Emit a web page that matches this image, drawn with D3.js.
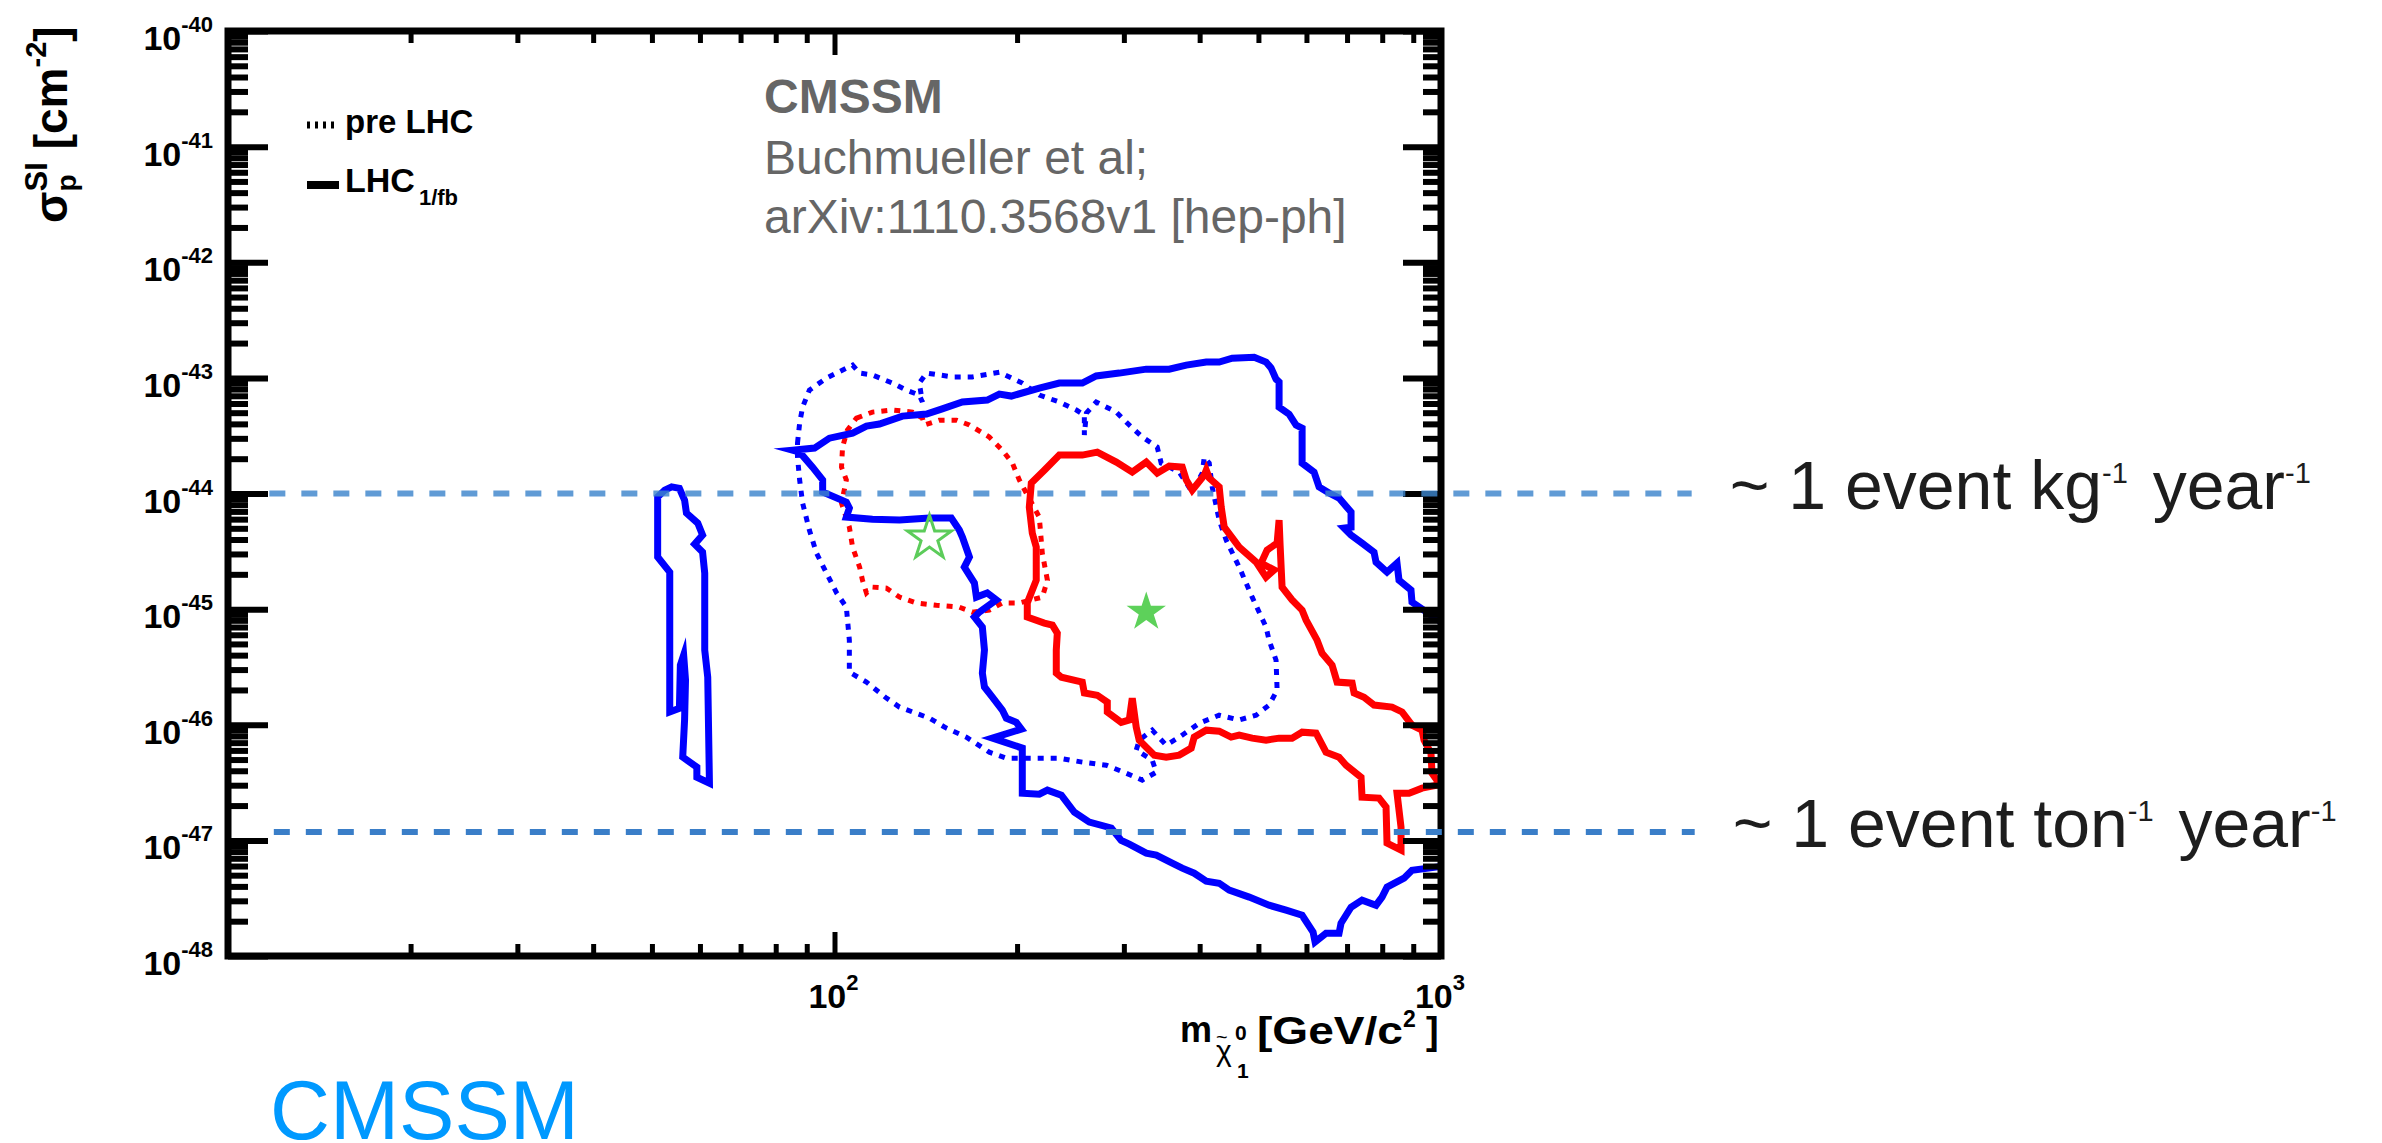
<!DOCTYPE html>
<html>
<head>
<meta charset="utf-8">
<script src="https://cdn.jsdelivr.net/npm/d3@7"></script>
<style>
  body { margin: 0; background: #fff; }
  svg { display: block; font-family: "Liberation Sans", Arial, Helvetica, sans-serif; }
</style>
</head>
<body>
<div id="chart"></div>
<script>
// axis ranges
const massDomain = [10, 1000];          // GeV/c^2
const sigmaDomain = [1e-48, 1e-40];     // cm^2
const yTickExponents = [-40, -41, -42, -43, -44, -45, -46, -47, -48];
const xTickExponents = [2, 3];
const minorMantissas = [2, 3, 4, 5, 6, 7, 8, 9];

// contours, [mass GeV, sigma cm^2]
// LHC 1/fb, 95% CL (solid blue)
const lhc95Main = [[85.3,2.37e-44],[92.7,2.47e-44],[98.1,3.01e-44],[107.1,3.33e-44],[112.9,3.83e-44],[118.6,3.99e-44],[129.4,4.67e-44],[141.8,4.86e-44],[150.1,5.37e-44],[162.5,6.18e-44],[178.6,6.43e-44],[187.0,7.24e-44],[195.7,6.96e-44],[217.6,8.16e-44],[234.8,9.02e-44],[256.2,9.02e-44],[270.1,1.04e-43],[294.8,1.10e-43],[326.6,1.19e-43],[356.3,1.19e-43],[380.2,1.29e-43],[410.1,1.37e-43],[430.8,1.37e-43],[452.6,1.48e-43],[492.0,1.51e-43],[514.7,1.37e-43],[524.5,1.22e-43],[534.6,9.76e-44],[540.8,9.20e-44],[540.8,5.59e-44],[561.7,4.86e-44],[576.8,3.91e-44],[590.2,3.68e-44],[590.2,1.83e-44],[617.6,1.53e-44],[629.5,1.14e-44],[653.7,1.01e-44],[679.0,9.13e-45],[710.7,6.91e-45],[710.7,5.12e-45],[692.0,5.02e-45],[710.7,4.37e-45],[741.0,3.72e-45],[775.5,3.11e-45],[781.4,2.55e-45],[814.7,2.09e-45],[846.2,2.50e-45],[852.6,1.78e-45],[892.3,1.46e-45],[895.7,1.15e-45],[973.6,8.53e-46],[1050,6.58e-46],[1050,6.10e-48],[981.0,5.87e-48],[895.7,5.52e-48],[869.0,4.71e-48],[814.7,3.94e-48],[799.4,3.23e-48],[781.4,2.75e-48],[741.0,3.04e-48],[710.7,2.64e-48],[684.1,1.92e-48],[679.0,1.57e-48],[646.3,1.57e-48],[620.0,1.32e-48],[615.3,1.61e-48],[590.2,2.25e-48],[555.3,2.49e-48],[520.6,2.75e-48],[482.8,3.23e-48],[447.5,3.71e-48],[430.8,4.26e-48],[410.1,4.44e-48],[391.8,5.20e-48],[374.4,5.75e-48],[360.4,6.35e-48],[339.3,7.45e-48],[326.6,7.75e-48],[306.2,9.27e-48],[297.0,1.00e-47],[286.0,1.28e-47],[263.1,1.44e-47],[248.6,1.75e-47],[236.6,2.46e-47],[224.4,2.72e-47],[217.6,2.51e-47],[204.0,2.56e-47],[204.0,6.28e-47],[182.1,7.66e-47],[203.3,9.16e-47],[199.4,1.05e-46],[192.0,1.14e-46],[189.1,1.34e-46],[182.1,1.73e-46],[176.7,2.12e-46],[175.3,2.80e-46],[176.7,4.42e-46],[175.3,6.99e-46],[170.1,8.53e-46],[173.3,9.42e-46],[184.9,1.20e-45],[178.6,1.38e-45],[171.4,1.27e-45],[170.1,1.68e-45],[163.7,2.31e-45],[166.9,2.82e-45],[162.5,4.20e-45],[160.6,4.83e-45],[155.8,6.13e-45],[143.4,6.13e-45],[128.0,5.89e-45],[115.5,6.00e-45],[104.6,6.25e-45],[105.8,7.48e-45],[104.6,8.42e-45],[95.6,1.03e-44],[95.6,1.31e-44],[92.0,1.69e-44],[87.6,2.28e-44]];
const lhc95Strip = [[53.9,1.14e-44],[55.5,1.11e-44],[56.6,8.77e-45],[57.0,6.77e-45],[59.5,5.55e-45],[60.6,4.37e-45],[58.8,3.65e-45],[60.6,3.11e-45],[61.1,2.05e-45],[61.1,4.42e-46],[61.8,2.58e-46],[62.2,3.12e-47],[59.3,3.52e-47],[59.3,4.30e-47],[56.2,5.25e-47],[56.6,1.10e-46],[56.8,2.43e-46],[56.4,4.00e-46],[55.7,3.28e-46],[55.5,1.39e-46],[53.5,1.29e-46],[53.5,2.09e-45],[51.1,2.82e-45],[51.1,9.31e-45],[52.5,1.07e-44]];
// LHC 1/fb, 68% CL (solid red)
const lhc68 = [[221.8,1.59e-44],[234.8,2.15e-44],[256.2,2.15e-44],[271.2,2.28e-44],[291.5,1.87e-44],[309.7,1.53e-44],[326.6,1.87e-44],[340.5,1.50e-44],[356.3,1.73e-44],[374.4,1.69e-44],[380.2,1.31e-44],[388.9,1.07e-44],[407.0,1.44e-44],[410.1,1.59e-44],[414.8,1.36e-44],[430.8,1.14e-44],[434.1,7.63e-45],[439.1,5.12e-45],[464.8,3.44e-45],[495.7,2.55e-45],[514.7,1.89e-45],[530.8,2.18e-45],[505.1,2.50e-45],[516.7,3.24e-45],[536.8,3.72e-45],[540.8,5.89e-45],[542.9,3.58e-45],[547.0,1.55e-45],[568.1,1.20e-45],[590.2,9.80e-46],[599.3,8.03e-46],[624.7,5.39e-46],[636.6,4.16e-46],[661.3,3.28e-46],[674.0,2.34e-46],[713.6,2.29e-46],[719.0,1.88e-46],[746.7,1.73e-46],[775.5,1.48e-46],[830.3,1.42e-46],[862.5,1.29e-46],[895.7,9.92e-47],[930.5,8.98e-47],[937.6,7.36e-47],[962.7,5.68e-47],[966.5,3.81e-47],[984.9,3.32e-47],[984.9,3.00e-47],[930.5,2.83e-47],[885.8,2.56e-47],[846.2,2.56e-47],[859.2,1.30e-47],[859.2,8.23e-48],[814.7,9.46e-48],[811.7,1.94e-47],[790.4,2.32e-47],[741.0,2.36e-47],[738.2,3.52e-47],[697.5,4.47e-47],[679.0,5.25e-47],[646.3,5.79e-47],[622.3,8.46e-47],[590.2,8.63e-47],[568.1,7.66e-47],[540.8,7.66e-47],[514.7,7.36e-47],[488.3,7.66e-47],[464.8,8.13e-47],[450.8,7.81e-47],[430.8,8.80e-47],[410.1,8.98e-47],[391.8,7.81e-47],[387.4,6.28e-47],[370.2,5.46e-47],[352.3,5.25e-47],[336.7,5.46e-47],[318.0,7.36e-47],[314.4,9.53e-47],[309.7,1.70e-46],[306.2,1.10e-46],[297.0,1.05e-46],[281.7,1.29e-46],[281.7,1.57e-46],[271.2,1.80e-46],[258.2,1.88e-46],[256.2,2.34e-46],[236.6,2.58e-46],[232.1,2.80e-46],[232.1,4.42e-46],[233.0,6.20e-46],[228.7,7.27e-46],[221.8,7.57e-46],[207.9,8.53e-46],[207.9,1.13e-45],[215.1,1.78e-45],[215.1,3.44e-45],[211.9,4.54e-45],[209.5,7.63e-45],[211.1,1.23e-44]];
// pre-LHC, 95% CL (dotted blue)
const pre95 = [[86.9,2.73e-44],[87.6,4.06e-44],[88.6,5.59e-44],[90.9,7.84e-44],[97.0,9.96e-44],[107.1,1.29e-43],[110.0,1.10e-43],[115.5,1.06e-43],[124.6,9.02e-44],[131.3,7.84e-44],[138.0,7.10e-44],[139.6,6.18e-44],[138.0,9.02e-44],[141.8,1.10e-43],[156.5,1.02e-43],[168.8,1.02e-43],[187.0,1.12e-43],[204.0,9.02e-44],[217.6,7.10e-44],[234.8,6.18e-44],[250.5,5.27e-44],[258.2,4.77e-44],[258.2,3.20e-44],[260.2,4.96e-44],[270.1,6.18e-44],[291.5,5.06e-44],[306.2,3.91e-44],[321.7,3.08e-44],[340.5,2.52e-44],[345.7,1.83e-44],[370.2,1.53e-44],[388.9,1.03e-44],[404.0,1.50e-44],[407.0,2.06e-44],[414.8,1.83e-44],[419.5,1.14e-44],[430.8,5.89e-45],[442.4,3.95e-45],[464.8,2.31e-45],[488.3,1.27e-45],[514.7,6.99e-46],[520.6,5.39e-46],[534.6,3.62e-46],[536.8,1.99e-46],[520.6,1.48e-46],[495.7,1.21e-46],[464.8,1.10e-46],[430.8,1.21e-46],[399.4,1.03e-46],[370.2,7.81e-47],[352.3,6.66e-47],[334.1,8.98e-47],[318.0,7.36e-47],[314.4,6.03e-47],[334.1,4.94e-47],[339.3,3.89e-47],[321.7,3.32e-47],[302.7,3.81e-47],[280.6,4.47e-47],[256.2,4.75e-47],[234.8,5.14e-47],[223.5,5.14e-47],[192.0,5.14e-47],[180.0,5.79e-47],[165.0,7.81e-47],[152.9,9.35e-47],[143.4,1.14e-46],[128.0,1.42e-46],[121.8,1.70e-46],[112.9,2.34e-46],[105.8,2.85e-46],[105.8,5.39e-46],[104.6,1.04e-45],[100.8,1.38e-45],[97.0,2.05e-45],[93.4,3.05e-45],[90.9,4.83e-45],[88.6,8.26e-45],[87.6,1.31e-44],[86.9,2.06e-44]];
// pre-LHC, 68% CL (dotted red)
const pre68 = [[108.7,4.49e-44],[115.5,5.06e-44],[124.6,5.27e-44],[134.4,5.06e-44],[139.6,4.49e-44],[140.7,3.91e-44],[148.9,4.31e-44],[158.9,4.31e-44],[166.9,3.91e-44],[180.0,3.08e-44],[189.1,2.37e-44],[196.5,1.83e-44],[201.7,1.31e-44],[207.1,1.01e-44],[217.6,6.25e-45],[220.1,3.05e-45],[224.4,1.78e-45],[220.1,1.27e-45],[201.7,1.13e-45],[189.1,1.13e-45],[180.0,9.80e-46],[168.8,9.42e-46],[160.6,1.04e-45],[147.2,1.08e-45],[136.5,1.13e-45],[128.0,1.27e-45],[121.8,1.52e-45],[115.5,1.55e-45],[112.9,1.38e-45],[111.2,1.78e-45],[110.0,2.31e-45],[107.1,3.44e-45],[105.8,5.12e-45],[102.7,8.26e-45],[104.6,1.31e-44],[102.7,1.69e-44],[103.1,2.52e-44],[105.0,3.53e-44]];

// best fit points
const bestFitPre = [143.4, 4.11e-45];
const bestFitLHC = [326.6, 9.42e-46];

// event rate lines
const eventLines = [
  { sigma: 1e-44, from: 11.7, to: 2590, color: "#3d85cc", opacity: 0.82, unit: "kg" },
  { sigma: 1.18e-47, from: 11.9, to: 2620, color: "#3a7ec8", opacity: 1, unit: "ton" }
];

const W = 2382, H = 1143;
const margin = { top: 31, right: 941, bottom: 187, left: 228 };
const width = W - margin.left - margin.right;
const height = H - margin.top - margin.bottom;

const x = d3.scaleLog().domain(massDomain).range([0, width]);
const y = d3.scaleLog().domain(sigmaDomain).range([height, 0]);

const svg = d3.select("#chart").append("svg")
  .attr("width", W)
  .attr("height", H);

const g = svg.append("g")
  .attr("transform", `translate(${margin.left},${margin.top})`);

g.append("clipPath").attr("id", "plotclip")
  .append("rect").attr("width", width).attr("height", height);

const contour = d3.line()
  .x(d => x(d[0]))
  .y(d => y(d[1]))
  .curve(d3.curveLinearClosed);

const plot = g.append("g").attr("clip-path", "url(#plotclip)");

const curves = [
  { pts: pre95, color: "#0000ff", dotted: true },
  { pts: pre68, color: "#ff0000", dotted: true },
  { pts: lhc95Main, color: "#0000ff", dotted: false },
  { pts: lhc95Strip, color: "#0000ff", dotted: false },
  { pts: lhc68, color: "#ff0000", dotted: false }
];

curves.forEach(c => {
  plot.append("path")
    .attr("d", contour(c.pts))
    .attr("fill", "none")
    .attr("stroke", c.color)
    .attr("stroke-width", c.dotted ? 5 : 7)
    .attr("stroke-dasharray", c.dotted ? "6,7" : null)
    .attr("stroke-linejoin", "miter")
    .attr("stroke-miterlimit", 6);
});

// stars
plot.append("path")
  .attr("d", d3.symbol().type(d3.symbolStar).size(600)())
  .attr("transform", `translate(${x(bestFitPre[0])},${y(bestFitPre[1])})`)
  .attr("fill", "none")
  .attr("stroke", "#5ccc5a")
  .attr("stroke-width", 3);

plot.append("path")
  .attr("d", d3.symbol().type(d3.symbolStar).size(480)())
  .attr("transform", `translate(${x(bestFitLHC[0])},${y(bestFitLHC[1])})`)
  .attr("fill", "#5dd15a");

// ticks
const yMajor = yTickExponents.map(e => Math.pow(10, e));
const yMinor = [];
yTickExponents.slice(0, -1).forEach(e => minorMantissas.forEach(k => yMinor.push(k * Math.pow(10, e - 1))));
const xMinor = [];
[1, 2].forEach(e => minorMantissas.forEach(k => xMinor.push(k * Math.pow(10, e))));
const xMajor = [100];

function tickStyle(sel, w) {
  sel.select(".domain").remove();
  sel.selectAll(".tick text").remove();
  sel.selectAll(".tick line").attr("stroke", "#000").attr("stroke-width", w);
}

g.append("g").call(d3.axisLeft(y).tickValues(yMinor).tickSize(-20).tickFormat("")).call(tickStyle, 6);
g.append("g").call(d3.axisLeft(y).tickValues(yMajor).tickSize(-40).tickFormat("")).call(tickStyle, 6);
g.append("g").attr("transform", `translate(${width},0)`)
  .call(d3.axisRight(y).tickValues(yMinor).tickSize(-18).tickFormat("")).call(tickStyle, 6);
g.append("g").attr("transform", `translate(${width},0)`)
  .call(d3.axisRight(y).tickValues(yMajor).tickSize(-38).tickFormat("")).call(tickStyle, 6);

g.append("g").attr("transform", `translate(0,${height})`)
  .call(d3.axisBottom(x).tickValues(xMinor).tickSize(-12).tickFormat("")).call(tickStyle, 5);
g.append("g").attr("transform", `translate(0,${height})`)
  .call(d3.axisBottom(x).tickValues(xMajor).tickSize(-24).tickFormat("")).call(tickStyle, 5);
g.append("g")
  .call(d3.axisTop(x).tickValues(xMinor).tickSize(-12).tickFormat("")).call(tickStyle, 5);
g.append("g")
  .call(d3.axisTop(x).tickValues(xMajor).tickSize(-24).tickFormat("")).call(tickStyle, 5);

// frame
g.append("rect")
  .attr("width", width)
  .attr("height", height)
  .attr("fill", "none")
  .attr("stroke", "#000")
  .attr("stroke-width", 7);

// tick labels
yTickExponents.forEach(e => {
  const t = g.append("text")
    .attr("x", -15)
    .attr("y", y(Math.pow(10, e)) + 19)
    .attr("text-anchor", "end")
    .attr("font-weight", "bold");
  t.append("tspan").attr("font-size", 34).text("10");
  t.append("tspan").attr("font-size", 22).attr("dy", -18).text(e);
});

xTickExponents.forEach(e => {
  const t = g.append("text")
    .attr("x", x(Math.pow(10, e)) - 1)
    .attr("y", height + 52)
    .attr("text-anchor", "middle")
    .attr("font-weight", "bold");
  t.append("tspan").attr("font-size", 34).text("10");
  t.append("tspan").attr("font-size", 22).attr("dy", -18).text(e);
});

// event rate lines
eventLines.forEach(l => {
  g.append("line")
    .attr("x1", x(l.from))
    .attr("x2", x(l.to))
    .attr("y1", y(l.sigma))
    .attr("y2", y(l.sigma))
    .attr("stroke", l.color)
    .attr("stroke-opacity", l.opacity)
    .attr("stroke-width", 6)
    .attr("stroke-dasharray", "16,16");

  const t = g.append("text")
    .attr("x", x(l.to) + 38)
    .attr("y", y(l.sigma) + 15)
    .attr("fill", "#1d1d1d")
    .attr("font-size", 68);
  t.append("tspan").text("~ 1 event " + l.unit);
  t.append("tspan").attr("font-size", 29).attr("dy", -26).text("-1");
  t.append("tspan").attr("dy", 26).attr("dx", 6).text(" year");
  t.append("tspan").attr("font-size", 29).attr("dy", -26).text("-1");
});

// y axis title
const yt = svg.append("text")
  .attr("transform", "translate(67,223) rotate(-90)")
  .attr("font-weight", "bold");
yt.append("tspan").attr("font-size", 46).text("σ");
yt.append("tspan").attr("font-size", 28).attr("dy", 9).text("p");
yt.append("tspan").attr("font-size", 31).attr("dx", -17).attr("dy", -29).text("SI");
yt.append("tspan").attr("font-size", 46).attr("dy", 20).text(" [cm");
yt.append("tspan").attr("font-size", 29).attr("dy", -21).text("-2");
yt.append("tspan").attr("font-size", 46).attr("dy", 21).text("]");

// x axis title
const xt = svg.append("g").attr("font-weight", "bold");
xt.append("text").attr("x", 1180).attr("y", 1042).attr("font-size", 36).text("m");
xt.append("text").attr("x", 1216).attr("y", 1044).attr("font-size", 20).attr("font-weight", "normal").text("~");
xt.append("text").attr("x", 1235).attr("y", 1040).attr("font-size", 21).text("0");
xt.append("text").attr("x", 1216).attr("y", 1061).attr("font-size", 30).attr("font-weight", "normal").text("χ");
xt.append("text").attr("x", 1237).attr("y", 1078).attr("font-size", 21).text("1");
xt.append("text").attr("x", 1257).attr("y", 1044).attr("font-size", 38)
  .attr("textLength", 146).attr("lengthAdjust", "spacingAndGlyphs").text("[GeV/c");
xt.append("text").attr("x", 1403).attr("y", 1027).attr("font-size", 23).text("2");
xt.append("text").attr("x", 1426).attr("y", 1044).attr("font-size", 38).text("]");

// legend
svg.append("line").attr("x1", 307).attr("x2", 339).attr("y1", 125).attr("y2", 125)
  .attr("stroke", "#000").attr("stroke-width", 7).attr("stroke-dasharray", "3,5");
svg.append("text").attr("x", 345).attr("y", 133).attr("font-size", 33).attr("font-weight", "bold").text("pre LHC");
svg.append("line").attr("x1", 307).attr("x2", 339).attr("y1", 185).attr("y2", 185)
  .attr("stroke", "#000").attr("stroke-width", 8);
const lg = svg.append("text").attr("x", 345).attr("y", 192).attr("font-weight", "bold");
lg.append("tspan").attr("font-size", 34).text("LHC");
lg.append("tspan").attr("font-size", 22).attr("dy", 13).attr("dx", 4).text("1/fb");

// model / reference note
const note = ["CMSSM", "Buchmueller et al;", "arXiv:1110.3568v1 [hep-ph]"];
const noteBaselines = [113, 174, 233];
note.forEach((s, i) => {
  svg.append("text")
    .attr("x", 764)
    .attr("y", noteBaselines[i])
    .attr("font-size", 48)
    .attr("font-weight", i === 0 ? "bold" : "normal")
    .attr("fill", "#666")
    .text(s);
});

// caption
svg.append("text")
  .attr("x", 270)
  .attr("y", 1139)
  .attr("font-size", 83)
  .attr("fill", "#0099ff")
  .text("CMSSM");
</script>
</body>
</html>
